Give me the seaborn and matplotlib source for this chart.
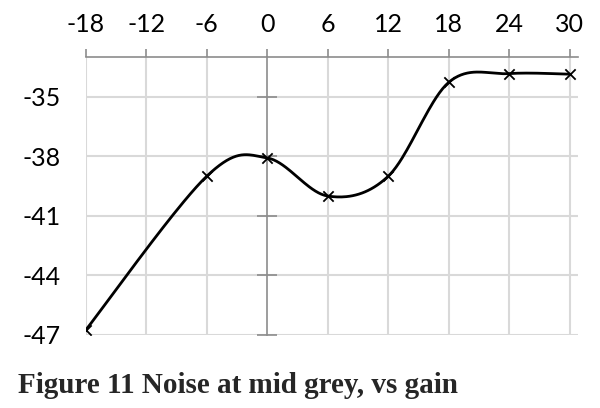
import numpy as np
import pandas as pd
import matplotlib
matplotlib.use('Agg')
import matplotlib.pyplot as plt
import seaborn as sb

# gain (dB) vs noise at mid grey
gain = [-18, -6, 0, 6, 12, 18, 24, 30]
noise = [-46.75, -39.0, -38.08, -40.0, -39.0, -34.27, -33.83, -33.86]
x_ticks = [-18, -12, -6, 0, 6, 12, 18, 24, 30]
y_ticks = [-47, -44, -41, -38, -35]
caption = 'Figure 11 Noise at mid grey, vs gain'


def smooth(xs, ys, n=40):
    # excel-style smoothed line (catmull-rom bezier)
    p = np.column_stack([xs, ys]).astype(float)
    p = np.vstack([p[0], p, p[-1]])
    out = []
    for i in range(1, len(p) - 2):
        p0, p1, p2, p3 = p[i - 1], p[i], p[i + 1], p[i + 2]
        c1 = p1 + (p2 - p0) / 6
        c2 = p2 - (p3 - p1) / 6
        t = np.linspace(0, 1, n)[:, None]
        seg = (1 - t) ** 3 * p1 + 3 * (1 - t) ** 2 * t * c1 + 3 * (1 - t) * t ** 2 * c2 + t ** 3 * p2
        out.append(seg if i == 1 else seg[1:])
    return np.vstack(out)


sb.set_style('white')
plt.rcParams['font.family'] = ['Lato', 'DejaVu Sans']
plt.rcParams['axes.unicode_minus'] = False

curve = smooth(gain, noise)
df_curve = pd.DataFrame({'gain': curve[:, 0], 'noise': curve[:, 1]})
df_pts = pd.DataFrame({'gain': gain, 'noise': noise})

fig = plt.figure(figsize=(6, 4.08), dpi=100)
ax = fig.add_axes([0.143, 0.179, 0.82, 0.681])

xmin, xmax = -18, 30.8
ymin, ymax = -47, -33
ax.set_xlim(xmin, xmax)
ax.set_ylim(ymin, ymax)

grid_c = '#d9d9d9'
axis_c = '#8c8c8c'
for xv in x_ticks:
    if xv != 0:
        ax.axvline(xv, color=grid_c, lw=1.5, zorder=0)
for yv in y_ticks:
    ax.axhline(yv, color=grid_c, lw=1.5, zorder=0)

sb.lineplot(data=df_curve, x='gain', y='noise', color='black', lw=2, sort=False,
            estimator=None, ax=ax, zorder=3)
sb.scatterplot(data=df_pts, x='gain', y='noise', marker='x', s=55, color='black',
               linewidth=1.3, ax=ax, zorder=4)

ax.set_xlabel('')
ax.set_ylabel('')

# x axis on top
ax.xaxis.tick_top()
ax.set_xticks(x_ticks)
ax.tick_params(axis='x', direction='out', length=6, width=1.2, color=axis_c,
               labelsize=18, pad=9, labelcolor='black')
for s in ['left', 'right', 'bottom']:
    ax.spines[s].set_visible(False)
ax.spines['top'].set_color(axis_c)
ax.spines['top'].set_linewidth(1.2)

# y labels at left, axis line through x = 0
ax.set_yticks(y_ticks)
ax.tick_params(axis='y', length=0, labelsize=18, pad=18, labelcolor='black')
loc = (0 - xmin) / (xmax - xmin)
sec = ax.secondary_yaxis(loc)
sec.set_yticks(y_ticks)
sec.tick_params(axis='y', direction='inout', length=14, width=1.2, color=axis_c,
                labelright=False, labelleft=False)
sec.spines['left'].set_color(axis_c)
sec.spines['left'].set_linewidth(1.2)
sec.spines['right'].set_visible(False)

fig.text(0.03, 0.037, caption, fontsize=21, fontweight='bold',
         family=['Liberation Serif', 'DejaVu Serif'])

fig.savefig('out.png', dpi=100)
